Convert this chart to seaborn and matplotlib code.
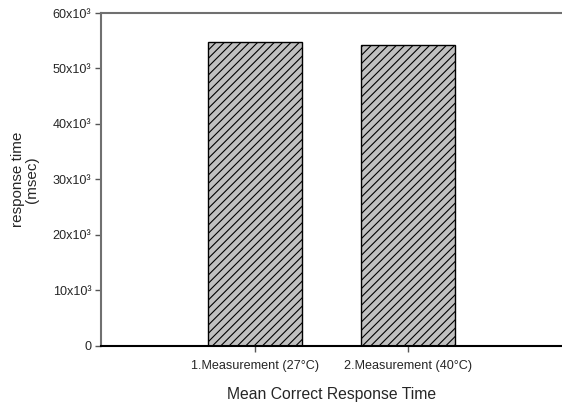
import matplotlib
matplotlib.use("Agg")
import matplotlib.pyplot as plt
import seaborn as sns
import pandas as pd
from matplotlib.ticker import FixedLocator, FixedFormatter

categories = ["1.Measurement (27°C)", "2.Measurement (40°C)"]
values = [54800, 54200]
ytick_values = [0, 10000, 20000, 30000, 40000, 50000, 60000]
ytick_labels = ["0", "10x10³", "20x10³", "30x10³", "40x10³", "50x10³", "60x10³"]

sns.set_style("white")
plt.rcParams["font.family"] = ["Liberation Sans", "DejaVu Sans"]
plt.rcParams["hatch.color"] = "#333333"
plt.rcParams["hatch.linewidth"] = 0.8

df = pd.DataFrame({"cat": categories, "val": values})

fig = plt.figure(figsize=(5.62, 4.05), dpi=100)
ax = fig.add_axes([0.1797, 0.1457, 0.8203, 0.8222])
sns.barplot(data=df, x="cat", y="val", ax=ax, color="#c0c0c0", width=0.61,
            edgecolor="black", linewidth=1.0, saturation=1)
for p in ax.patches:
    p.set_hatch("////")
    p.set_facecolor("#c0c0c0")
    p.set_edgecolor("black")

ax.set_xlim(-1.0, 2.0)
ax.set_ylim(0, 60000)
ax.yaxis.set_major_locator(FixedLocator(ytick_values))
ax.yaxis.set_major_formatter(FixedFormatter(ytick_labels))
ax.tick_params(axis="y", direction="out", length=4, width=1, color="#555555",
               labelsize=9.1, pad=3, left=True)
ax.tick_params(axis="x", direction="out", length=4, width=1, color="#555555",
               labelsize=9.1, pad=6, bottom=True)

for s in ["top", "left"]:
    ax.spines[s].set_color("#707070")
    ax.spines[s].set_linewidth(1.5)
ax.spines["bottom"].set_color("black")
ax.spines["bottom"].set_linewidth(1.5)
ax.spines["right"].set_visible(False)

ax.set_xlabel("Mean Correct Response Time", fontsize=11.3, labelpad=11)
ax.set_ylabel("response time\n(msec)", fontsize=11, labelpad=10, linespacing=1.0)

fig.savefig("out.png", dpi=100)
